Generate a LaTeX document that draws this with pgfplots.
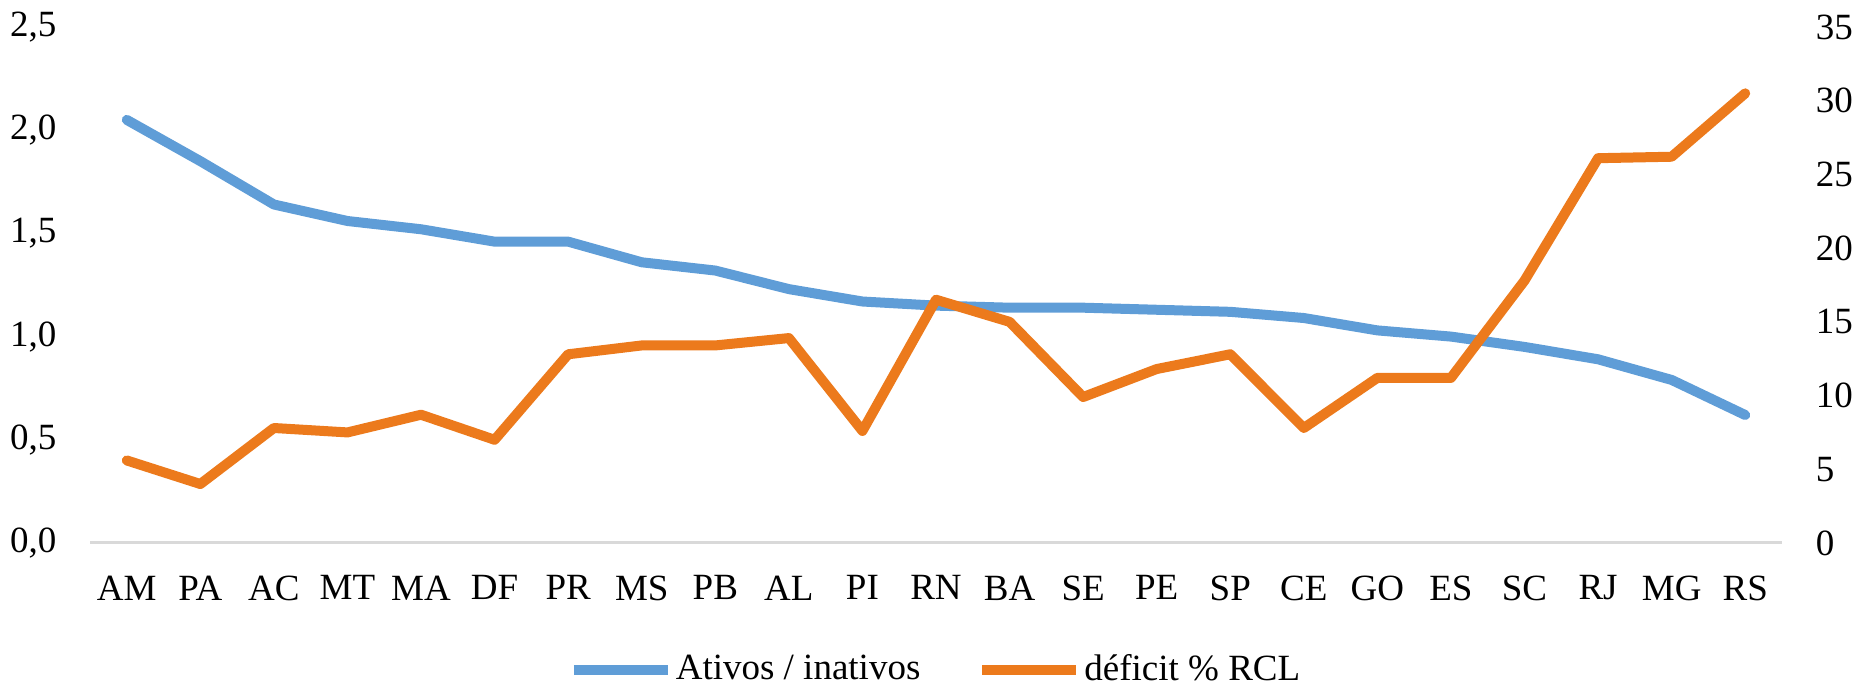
\documentclass[border=0pt]{standalone}
\usepackage{fontspec}
\setmainfont{Liberation Serif}
\usepackage{pgfplots}
\pgfplotsset{compat=1.18}
\definecolor{cblue}{HTML}{5F9DD7}
\definecolor{corange}{HTML}{EC7A1C}
\definecolor{cgrid}{HTML}{D9D9D9}
\pgfplotsset{mybase/.style={
  at={(45pt,73pt)}, anchor=south west, scale only axis,
  width=846pt, height=258pt,
  xmin=-0.5, xmax=22.5,
  major tick length=0pt,
  tick label style={font=\fontsize{18.5}{22}\selectfont},
  /pgf/number format/assume math mode=true,
  clip=false,
}}
\begin{document}
\fontsize{18.5}{22}\selectfont
\begin{tikzpicture}
\useasboundingbox (0,0) rectangle (928pt,344.5pt);
\begin{axis}[mybase,
  ymin=0, ymax=2.5, ytick={0,0.5,1,1.5,2,2.5},
  axis y line*=left, y axis line style={draw=none},
  axis x line*=bottom, x axis line style={draw=cgrid, line width=1.5pt, -},
  xtick={0,...,22},
  xticklabels={AM,PA,AC,MT,MA,DF,PR,MS,PB,AL,PI,RN,BA,SE,PE,SP,CE,GO,ES,SC,RJ,MG,RS},
  xticklabel style={yshift=-10pt},
  yticklabel style={xshift=-10.5pt, /pgf/number format/.cd, use comma, fixed, fixed zerofill, precision=1},
]
\addplot[cblue, line width=5pt, line join=round, line cap=round] coordinates {
(0,2.05) (1,1.85) (2,1.64) (3,1.56) (4,1.52) (5,1.46) (6,1.46) (7,1.36) (8,1.32) (9,1.23) (10,1.17) (11,1.15) (12,1.14) (13,1.14) (14,1.13) (15,1.12) (16,1.09) (17,1.03) (18,1.00) (19,0.95) (20,0.89) (21,0.79) (22,0.62)
};
\end{axis}
\begin{axis}[mybase,
  ymin=0, ymax=35, ytick={0,5,10,15,20,25,30,35},
  axis y line*=right, y axis line style={draw=none},
  axis x line=none,
  yticklabel style={xshift=10.5pt},
  legend style={at={(0.5,-0.246)}, anchor=center, draw=none, fill=none,
    font=\fontsize{18.5}{22}\selectfont, legend columns=2,
    /tikz/every even column/.append style={column sep=27pt},
    nodes={inner sep=1.5pt}},
  legend image code/.code={\draw[#1, line cap=butt] (0pt,0pt) -- (47pt,0pt);},
]
\addlegendimage{cblue, line width=5pt}
\addlegendentry{Ativos / inativos}
\addplot[corange, line width=5pt, line join=round, line cap=round] coordinates {
(0,5.6) (1,4.0) (2,7.8) (3,7.5) (4,8.7) (5,7.0) (6,12.8) (7,13.4) (8,13.4) (9,13.9) (10,7.6) (11,16.5) (12,15.0) (13,9.9) (14,11.8) (15,12.8) (16,7.8) (17,11.2) (18,11.2) (19,17.8) (20,26.1) (21,26.2) (22,30.5)
};
\addlegendentry{déficit \% RCL}
\end{axis}
\end{tikzpicture}
\end{document}
